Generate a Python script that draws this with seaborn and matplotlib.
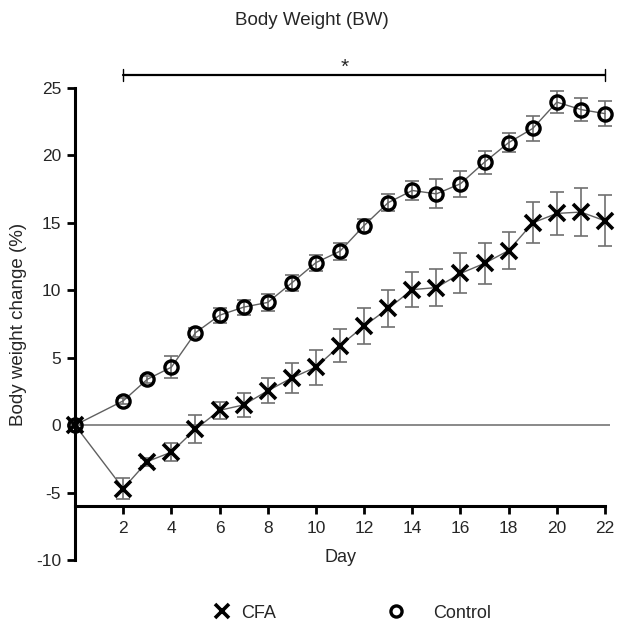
import numpy as np
import pandas as pd
import matplotlib
matplotlib.use("Agg")
import matplotlib.pyplot as plt
from matplotlib.lines import Line2D
import seaborn as sns

days = [0, 2, 3, 4, 5, 6, 7, 8, 9, 10, 11, 12, 13, 14, 15, 16, 17, 18, 19, 20, 21, 22]
control_mean = [0, 1.8, 3.4, 4.3, 6.85, 8.15, 8.75, 9.1, 10.55, 12.05, 12.9, 14.8, 16.5, 17.4, 17.15, 17.9, 19.5, 20.95, 22.0, 23.95, 23.4, 23.1]
control_sem = [0, 0.2, 0.25, 0.8, 0.35, 0.55, 0.55, 0.65, 0.6, 0.6, 0.62, 0.5, 0.62, 0.74, 1.08, 0.95, 0.86, 0.7, 0.92, 0.84, 0.86, 0.94]
cfa_mean = [0, -4.7, -2.7, -2.0, -0.3, 1.1, 1.5, 2.55, 3.5, 4.3, 5.9, 7.35, 8.65, 10.05, 10.2, 11.25, 12.0, 12.95, 15.0, 15.7, 15.8, 15.15]
cfa_sem = [0, 0.77, 0.3, 0.68, 1.05, 0.64, 0.89, 0.93, 1.09, 1.3, 1.2, 1.35, 1.36, 1.3, 1.4, 1.48, 1.54, 1.4, 1.52, 1.57, 1.8, 1.9]
groups = ["CFA", "Control"]
y_ticks = [-10, -5, 0, 5, 10, 15, 20, 25]
x_ticks = [2, 4, 6, 8, 10, 12, 14, 16, 18, 20, 22]

sns.set_theme(style="ticks")
plt.rcParams['font.family'] = ['Liberation Sans', 'DejaVu Sans']
plt.rcParams['axes.unicode_minus'] = False

df = pd.concat([
    pd.DataFrame({"Day": days, "mean": cfa_mean, "sem": cfa_sem, "group": groups[0]}),
    pd.DataFrame({"Day": days, "mean": control_mean, "sem": control_sem, "group": groups[1]}),
])

fig = plt.figure(figsize=(6.17, 6.29), dpi=100)
ax = fig.add_axes([0.1216, 0.1097, 0.8668, 0.7504])

# zero line
ax.axhline(0, color="#808080", lw=1.3, zorder=1)

styles = {"CFA": dict(marker="x", ms=11, mew=2.6, mfc="black"),
          "Control": dict(marker="o", ms=9.5, mew=2.4, mfc="none")}

for g in groups:
    sub = df[df["group"] == g]
    ax.errorbar(sub["Day"], sub["mean"], yerr=sub["sem"], fmt="none",
                ecolor="#707070", elinewidth=1.2, capsize=4.8, capthick=1.2,
                zorder=2, clip_on=False)

sns.lineplot(data=df, x="Day", y="mean", units="group", estimator=None,
             color="#606060", lw=1.0, ax=ax, legend=False, zorder=3)

for g in groups:
    sub = df[df["group"] == g]
    st = styles[g]
    ax.plot(sub["Day"], sub["mean"], ls="none", marker=st["marker"], ms=st["ms"],
            mew=st["mew"], mfc=st["mfc"], mec="black", color="black",
            zorder=4, clip_on=False)

ax.set_xlim(0, 22.2)
ax.set_ylim(-10, 25)
ax.set_yticks(y_ticks)
ax.set_xticks(x_ticks)
ax.tick_params(axis="both", labelsize=12.5, width=2, length=6, color="black",
               direction="out")
ax.tick_params(axis="y", pad=4)
ax.tick_params(axis="x", pad=5)
for s in ["top", "right"]:
    ax.spines[s].set_visible(False)
ax.spines["left"].set_linewidth(2.2)
ax.spines["bottom"].set_linewidth(2.2)
ax.spines["left"].set_color("black")
ax.spines["bottom"].set_color("black")
ax.spines["bottom"].set_position(("data", -6))
ax.spines["bottom"].set_bounds(0, 22)

ax.set_xlabel("Day", fontsize=13)
ax.xaxis.label.set_va("center")
ax.xaxis.set_label_coords(0.497, 0.005)
ax.set_ylabel("Body weight change (%)", fontsize=13.5)
ax.yaxis.label.set_va("center")
ax.yaxis.set_label_coords(-0.105, 0.5)

# significance bar
ax.plot([2, 22], [25.95, 25.95], color="black", lw=1.6, clip_on=False)
ax.plot([2, 2], [25.5, 26.4], color="black", lw=1.0, clip_on=False)
ax.plot([22, 22], [25.5, 26.4], color="black", lw=1.0, clip_on=False)
ax.text(11.2, 26.15, "*", ha="center", va="baseline", fontsize=15)

fig.text(0.505, 0.967, "Body Weight (BW)", ha="center", va="center", fontsize=13.5)

h_cfa = Line2D([], [], ls="none", marker="x", ms=10, mew=2.6, color="black")
h_ctl = Line2D([], [], ls="none", marker="o", ms=8, mew=2.4, mfc="none", mec="black")
fig.legend([h_cfa], [groups[0]], loc="center left", bbox_to_anchor=(0.3423, 0.0254),
           frameon=False, fontsize=13, handletextpad=0.45, handlelength=1.2,
           borderpad=0, borderaxespad=0)
fig.legend([h_ctl], [groups[1]], loc="center left", bbox_to_anchor=(0.6243, 0.0254),
           frameon=False, fontsize=13, handletextpad=1.45, handlelength=1.2,
           borderpad=0, borderaxespad=0)

fig.savefig("out.png", dpi=100)
